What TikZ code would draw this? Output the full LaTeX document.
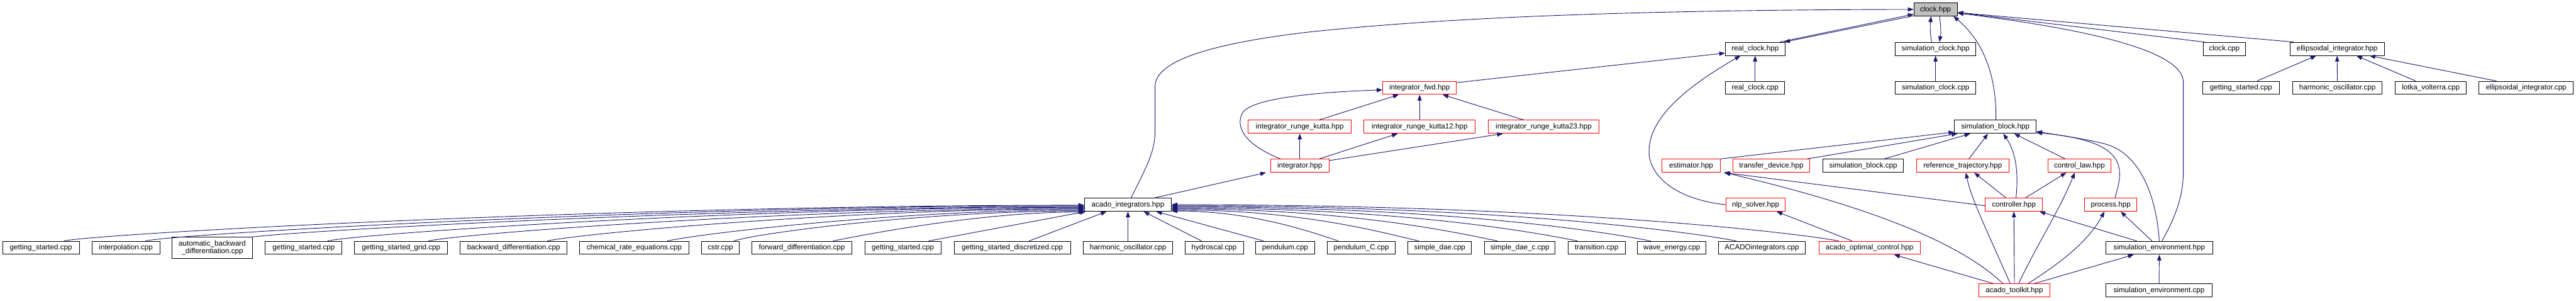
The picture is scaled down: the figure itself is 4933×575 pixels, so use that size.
\documentclass[tikz,border=0pt]{standalone}
\usepackage{fontspec}
\setmainfont{Liberation Sans}
\usetikzlibrary{arrows.meta}
\definecolor{edgecol}{HTML}{191970}
\definecolor{boxred}{HTML}{FF0000}
\definecolor{clockfill}{HTML}{BFBFBF}
\tikzset{
 fbox/.style={draw=black, line width=1.2pt, fill=white, inner sep=0pt, minimum height=25pt, font=\fontsize{14}{15}\selectfont},
 nb/.style={fbox, text height=10.5pt, text depth=3pt},
 rb/.style={nb, draw=boxred},
 gb/.style={nb, fill=clockfill},
 edg/.style={draw=edgecol, line width=1.1pt, -{Triangle[length=11pt,width=8pt]}},
}
\begin{document}
\begin{tikzpicture}[x=1pt,y=-1pt]
\useasboundingbox (0,0) rectangle (4933,575);
% row 0
\node[gb, minimum width=83pt] (clock) at (3706.5,18) {clock.hpp};
% row 1
\node[nb, minimum width=114pt] (rch) at (3361,93.5) {real\_clock.hpp};
\node[nb, minimum width=155pt] (scl) at (3706.5,93.5) {simulation\_clock.hpp};
\node[nb, minimum width=81pt] (ccpp) at (4259.5,93.5) {clock.cpp};
\node[nb, minimum width=181pt] (ellh) at (4475.5,93.5) {ellipsoidal\_integrator.hpp};
% row 2
\node[rb, minimum width=141pt] (ifwd) at (2718.5,168) {integrator\_fwd.hpp};
\node[nb, minimum width=113pt] (rcc) at (3361,168) {real\_clock.cpp};
\node[nb, minimum width=155pt] (scc) at (3706.5,168) {simulation\_clock.cpp};
\node[nb, minimum width=147pt] (gsr) at (4291.5,168) {getting\_started.cpp};
\node[nb, minimum width=172pt] (hor) at (4476,168) {harmonic\_oscillator.cpp};
\node[nb, minimum width=136pt] (lv) at (4655,168) {lotka\_volterra.cpp};
\node[nb, minimum width=181pt] (ellcpp) at (4837.5,168) {ellipsoidal\_integrator.cpp};
% row 3
\node[rb, minimum width=198pt] (irk) at (2489,242.5) {integrator\_runge\_kutta.hpp};
\node[rb, minimum width=213pt] (irk12) at (2718.5,242.5) {integrator\_runge\_kutta12.hpp};
\node[rb, minimum width=212pt] (irk23) at (2956,242.5) {integrator\_runge\_kutta23.hpp};
\node[nb, minimum width=156pt] (sbh) at (3821,242.5) {simulation\_block.hpp};
% row 4
\node[rb, minimum width=112pt] (integ) at (2489,317) {integrator.hpp};
\node[rb, minimum width=111pt] (est) at (3238.5,317) {estimator.hpp};
\node[rb, minimum width=148pt] (td) at (3392,317) {transfer\_device.hpp};
\node[nb, minimum width=154pt] (sbcpp) at (3568,317) {simulation\_block.cpp};
\node[rb, minimum width=177pt] (rt) at (3758.5,317) {reference\_trajectory.hpp};
\node[rb, minimum width=120pt] (cl) at (3982,317) {control\_law.hpp};
% row 5
\node[nb, minimum width=166pt] (ai) at (2160,391.5) {acado\_integrators.hpp};
\node[rb, minimum width=114pt] (nlp) at (3362,391.5) {nlp\_solver.hpp};
\node[rb, minimum width=109pt] (ctrl) at (3856.5,391.5) {controller.hpp};
\node[rb, minimum width=100pt] (proc) at (4042,391.5) {process.hpp};
% row 6
\node[nb, minimum width=147pt] (gs1) at (78.5,474) {getting\_started.cpp};
\node[nb, minimum width=130pt] (interp) at (241,474) {interpolation.cpp};
\node[fbox, minimum width=155pt, minimum height=40pt, align=center] (abd) at (406.5,474) {automatic\_backward\\\_differentiation.cpp};
\node[nb, minimum width=147pt] (gs2) at (581.5,474) {getting\_started.cpp};
\node[nb, minimum width=178pt] (gsg) at (768,474) {getting\_started\_grid.cpp};
\node[nb, minimum width=205pt] (bd) at (983.5,474) {backward\_differentiation.cpp};
\node[nb, minimum width=209pt] (cre) at (1214.5,474) {chemical\_rate\_equations.cpp};
\node[nb, minimum width=73pt] (cstr) at (1379.5,474) {cstr.cpp};
\node[nb, minimum width=191pt] (fd) at (1535.5,474) {forward\_differentiation.cpp};
\node[nb, minimum width=146pt] (gs3) at (1729,474) {getting\_started.cpp};
\node[nb, minimum width=223pt] (gsd) at (1938.5,474) {getting\_started\_discretized.cpp};
\node[nb, minimum width=172pt] (ho) at (2160,474) {harmonic\_oscillator.cpp};
\node[nb, minimum width=112pt] (hyd) at (2325,474) {hydroscal.cpp};
\node[nb, minimum width=114pt] (pend) at (2461,474) {pendulum.cpp};
\node[nb, minimum width=130pt] (pendc) at (2607,474) {pendulum\_C.cpp};
\node[nb, minimum width=122pt] (sdae) at (2757,474) {simple\_dae.cpp};
\node[nb, minimum width=135pt] (sdaec) at (2910.5,474) {simple\_dae\_c.cpp};
\node[nb, minimum width=109pt] (trans) at (3057.5,474) {transition.cpp};
\node[nb, minimum width=131pt] (wave) at (3201.5,474) {wave\_energy.cpp};
\node[nb, minimum width=166pt] (acint) at (3374,474) {ACADOintegrators.cpp};
\node[rb, minimum width=194pt] (aoc) at (3580,474) {acado\_optimal\_control.hpp};
\node[nb, minimum width=204pt] (senvh) at (4135,474) {simulation\_environment.hpp};
% row 7
\node[rb, minimum width=135pt] (at) at (3857.5,555.5) {acado\_toolkit.hpp};
\node[nb, minimum width=203pt] (senvcpp) at (4134.5,555.5) {simulation\_environment.cpp};

% ---- edges into clock.hpp
\draw[edg] ([xshift=6pt]ai.north) .. controls (2195,320) and (2212,290) .. (2212,250) -- (2212,165) .. controls (2212,110) and (2350,80) .. (2500,62) .. controls (2750,35) and (3100,19) .. (clock.west);
\draw[edg] ([xshift=-10pt]rch.north east) -- ([yshift=4pt]clock.south west);
\draw[edg] ([yshift=1pt]clock.south west) -- ([xshift=-2pt]rch.north east);
\draw[edg] ([xshift=-7.5pt]scl.north) .. controls +(-3,-18) and +(-2,18) .. ([xshift=-8.5pt]clock.south);
\draw[edg] ([xshift=7.5pt]clock.south) .. controls +(3,18) and +(3,-18) .. ([xshift=7.5pt]scl.north);
\draw[edg] ([xshift=1pt]sbh.north) .. controls (3824,150) and (3800,80) .. ([xshift=-8pt]clock.south east);
\draw[edg] ([xshift=3pt]ccpp.north west) -- ([yshift=-6pt]clock.east);
\draw[edg] ([xshift=8pt]ellh.north west) -- ([yshift=-6pt]clock.east);
\draw[edg] ([xshift=5pt]senvh.north) .. controls (4175,400) and (4181,360) .. (4181,327) -- (4181,157) .. controls (4181,90) and (3950,50) .. ([yshift=-7pt]clock.east);

% ---- real_clock, simulation_clock
\draw[edg] (rcc.north) -- (rch.south);
\draw[edg] (scc.north) -- (scl.south);
\draw[edg] ([yshift=10pt]ifwd.east) -- ([yshift=-8pt]rch.west);
\draw[edg] (nlp.west) .. controls (3200,380) and (3155,330) .. (3158,286) .. controls (3160,220) and (3240,160) .. ([xshift=-28pt]rch.south);

% ---- ellipsoidal
\draw[edg] ([xshift=30.5pt]gsr.north) -- ([xshift=-40pt]ellh.south);
\draw[edg] (hor.north) -- (ellh.south);
\draw[edg] ([xshift=-29pt]lv.north) -- ([xshift=37pt]ellh.south);
\draw[edg] ([xshift=-57pt]ellcpp.north) -- ([xshift=62pt]ellh.south);

% ---- integrator family
\draw[edg] ([xshift=37pt]irk.north) -- ([xshift=-40pt]ifwd.south);
\draw[edg] (irk12.north) -- (ifwd.south);
\draw[edg] ([xshift=-38pt]irk23.north) -- ([xshift=44pt]ifwd.south);
\draw[edg] (integ.north) -- (irk.south);
\draw[edg] ([xshift=37pt]integ.north) -- ([xshift=-42pt]irk12.south);
\draw[edg] ([yshift=10pt]integ.east) -- ([xshift=-78pt]irk23.south);
\draw[edg] ([xshift=-37pt]integ.north) .. controls (2380,275) and (2365,240) .. (2380,215) .. controls (2400,185) and (2550,175) .. ([yshift=-4pt]ifwd.west);
\draw[edg] ([xshift=51pt]ai.north) -- ([xshift=-8pt]integ.south west);

% ---- simulation_block
\draw[edg] (est.north east) -- ([yshift=3pt]sbh.south west);
\draw[edg] ([xshift=-6pt]td.north east) -- ([xshift=6pt]sbh.south west);
\draw[edg] ([xshift=40pt]sbcpp.north) -- ([xshift=-48pt]sbh.south);
\draw[edg] ([xshift=12pt]rt.north) -- ([xshift=-14pt]sbh.south);
\draw[edg] ([xshift=4pt]ctrl.north) .. controls (3866,330) and (3860,290) .. ([xshift=15pt]sbh.south);
\draw[edg] ([xshift=-27pt]cl.north) -- ([xshift=36pt]sbh.south);
\draw[edg] ([xshift=8pt]proc.north) .. controls (4068,320) and (4075,270) .. ([yshift=2pt]sbh.south east);
\draw[edg] (senvh.north) .. controls (4128,360) and (4090,290) .. (4030,275) .. controls (3990,265) and (3940,258) .. ([yshift=4pt]sbh.south east);

% ---- controller area
\draw[edg] ([yshift=-2pt]ctrl.west) -- ([xshift=6pt]est.south east);
\draw[edg] ([xshift=-22pt]at.north) .. controls (3760,470) and (3600,400) .. ([xshift=8pt]est.south east);
\draw[edg] ([xshift=-15pt]ctrl.north) -- ([xshift=22pt]rt.south);
\draw[edg] ([xshift=-8pt]at.north) .. controls (3800,430) and (3775,380) .. ([xshift=6pt]rt.south);
\draw[edg] ([xshift=22pt]ctrl.north) -- ([xshift=-25pt]cl.south);
\draw[edg] ([xshift=8pt]at.north) .. controls (3905,460) and (3945,400) .. ([xshift=-9pt]cl.south);
\draw[edg] (at.north) -- (ctrl.south);
\draw[edg] ([xshift=-43pt]senvh.north) -- ([xshift=-6pt]ctrl.south east);
\draw[edg] ([xshift=26pt]at.north) .. controls (3950,500) and (4000,460) .. ([xshift=-12pt]proc.south);
\draw[edg] ([xshift=-14pt]senvh.north) -- ([xshift=19pt]proc.south);
\draw[edg] ([xshift=38pt]at.north) -- ([xshift=-49pt]senvh.south);
\draw[edg] (senvcpp.north) -- (senvh.south);
\draw[edg] ([xshift=-33pt]aoc.north) -- ([xshift=40pt]nlp.south);
\draw[edg] ([xshift=-40pt]at.north) -- ([xshift=47pt]aoc.south);

% ---- acado_integrators users, left
\draw[edg] ([xshift=44pt]gs1.north) .. controls +(60,-14) and +(-900,0) .. ([yshift=-1pt]ai.west);
\draw[edg] ([xshift=37pt]interp.north) .. controls +(60,-14) and +(-800,0) .. ([yshift=-2pt]ai.west);
\draw[edg] ([xshift=-2pt]abd.north east) .. controls +(60,-10) and +(-700,0) .. ([yshift=-4pt]ai.west);
\draw[edg] ([xshift=46pt]gs2.north) .. controls +(60,-14) and +(-650,0) .. ([yshift=-5pt]ai.west);
\draw[edg] ([xshift=52pt]gsg.north) .. controls +(60,-14) and +(-550,0) .. ([yshift=-7pt]ai.west);
\draw[edg] ([xshift=64.5pt]bd.north) .. controls +(60,-14) and +(-450,0) .. ([yshift=-8pt]ai.west);
\draw[edg] ([xshift=63.5pt]cre.north) .. controls +(60,-14) and +(-350,0) .. ([yshift=-10pt]ai.west);
\draw[edg] ([xshift=25.5pt]cstr.north) .. controls +(50,-16) and +(-300,0) .. ([yshift=-12pt]ai.west);
\draw[edg] ([xshift=59.5pt]fd.north) .. controls +(60,-12) and +(-200,0) .. ([yshift=-14pt]ai.west);
\draw[edg] ([xshift=49pt]gs3.north) -- ([xshift=3pt]ai.south west);
\draw[edg] ([xshift=32pt]gsd.north) -- ([xshift=-41pt]ai.south);
\draw[edg] (ho.north) -- (ai.south);
\draw[edg] ([xshift=-24pt]hyd.north) -- ([xshift=30pt]ai.south);
\draw[edg] ([xshift=-41pt]pend.north) -- ([xshift=54pt]ai.south);
% ---- acado_integrators users, right
\draw[edg] ([xshift=-44pt]pendc.north) .. controls +(-60,-20) and +(150,0) .. ([yshift=-12pt]ai.east);
\draw[edg] ([xshift=-40pt]sdae.north) .. controls +(-70,-16) and +(250,0) .. ([yshift=-10pt]ai.east);
\draw[edg] ([xshift=-42.5pt]sdaec.north) .. controls +(-70,-14) and +(350,0) .. ([yshift=-8pt]ai.east);
\draw[edg] ([xshift=-36.5pt]trans.north) .. controls +(-70,-14) and +(450,0) .. ([yshift=-6pt]ai.east);
\draw[edg] ([xshift=-40.5pt]wave.north) .. controls +(-70,-14) and +(550,0) .. ([yshift=-4pt]ai.east);
\draw[edg] ([xshift=-49pt]acint.north) .. controls +(-70,-14) and +(650,0) .. ([yshift=-2pt]ai.east);
\draw[edg] ([xshift=-59pt]aoc.north) .. controls +(-70,-14) and +(750,0) .. (ai.east);
\end{tikzpicture}
\end{document}
